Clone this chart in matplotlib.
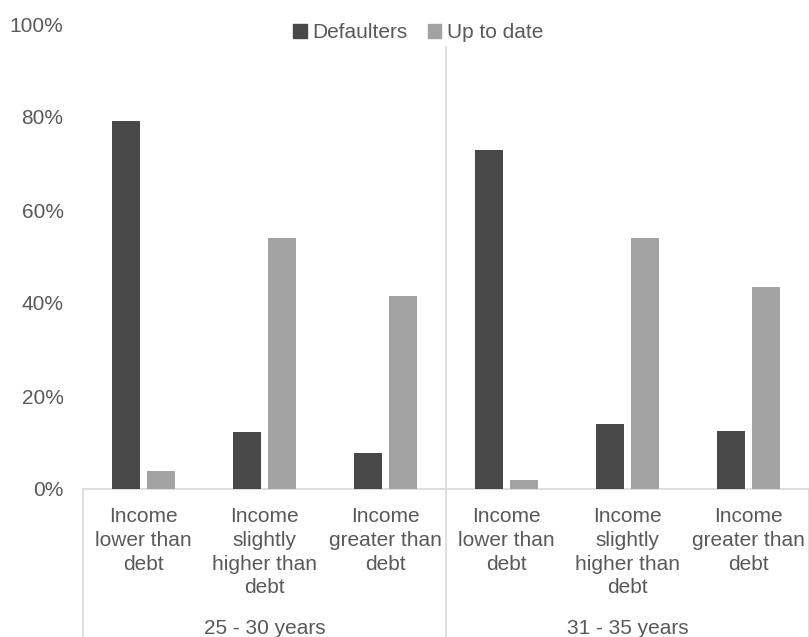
import matplotlib
matplotlib.use("Agg")
import matplotlib.pyplot as plt
import numpy as np
from matplotlib.patches import Patch
from matplotlib.lines import Line2D

plt.rcParams['font.family'] = ['Liberation Sans', 'DejaVu Sans']

categories = ["Income\nlower than\ndebt", "Income\nslightly\nhigher than\ndebt", "Income\ngreater than\ndebt",
              "Income\nlower than\ndebt", "Income\nslightly\nhigher than\ndebt", "Income\ngreater than\ndebt"]
groups = ["25 - 30 years", "31 - 35 years"]
defaulters = [79.2, 12.3, 7.7, 72.9, 13.9, 12.5]
up_to_date = [3.9, 54.0, 41.5, 2.0, 54.0, 43.5]
yticks = [0, 20, 40, 60, 80, 100]

dark = "#484848"
light = "#a2a2a2"
txt = "#595959"
linec = "#d9d9d9"

W, H = 809, 637
fig = plt.figure(figsize=(W/100, H/100), dpi=100)
x0, x1 = 83, 809
yb, yt = 489, 24
ax = fig.add_axes([x0/W, 1 - yb/H, (x1-x0)/W, (yb-yt)/H])

x = np.arange(len(categories))
bw = 0.225
off = 0.145
ax.bar(x - off, defaulters, bw, color=dark, label="Defaulters", zorder=3)
ax.bar(x + off, up_to_date, bw, color=light, label="Up to date", zorder=3)

ax.set_xlim(-0.5, len(categories) - 0.5)
ax.set_ylim(0, 100)
ax.set_yticks(yticks)
ax.set_yticklabels([f"{v}%" for v in yticks], fontsize=15, color=txt)
ax.tick_params(axis='y', length=0, pad=14)
ax.set_xticks(x)
ax.set_xticklabels(categories, fontsize=15, color=txt, linespacing=1.32)
ax.tick_params(axis='x', length=0, pad=13)
for s in ['left', 'top', 'right']:
    ax.spines[s].set_visible(False)
ax.spines['bottom'].set_color(linec)
ax.spines['bottom'].set_linewidth(1.2)

# separators of multi-level category axis
sep_top = (yb - 47) / (yb - yt)
bottom_y = (yb - H) / (yb - yt)
for xs, top in [(-0.5, 0.0), (2.5, sep_top), (5.5, 0.0)]:
    ax.add_line(Line2D([xs, xs], [top, bottom_y], transform=ax.get_xaxis_transform(),
                       color=linec, lw=1.2, clip_on=False))

gy = (yb - 628) / (yb - yt)
for i, g in enumerate(groups):
    ax.text(3*i + 1, gy, g, transform=ax.get_xaxis_transform(), ha='center', va='center',
            fontsize=15, color=txt)

handles = [Patch(color=dark, label="Defaulters"), Patch(color=light, label="Up to date")]
leg = fig.legend(handles=handles, loc='center', bbox_to_anchor=(418/W, 1 - 33/H), ncol=2,
                 frameon=False, fontsize=15, handlelength=0.65, handleheight=0.65,
                 handletextpad=0.25, columnspacing=1.0, labelcolor=txt)

fig.savefig("out.png", dpi=100)
